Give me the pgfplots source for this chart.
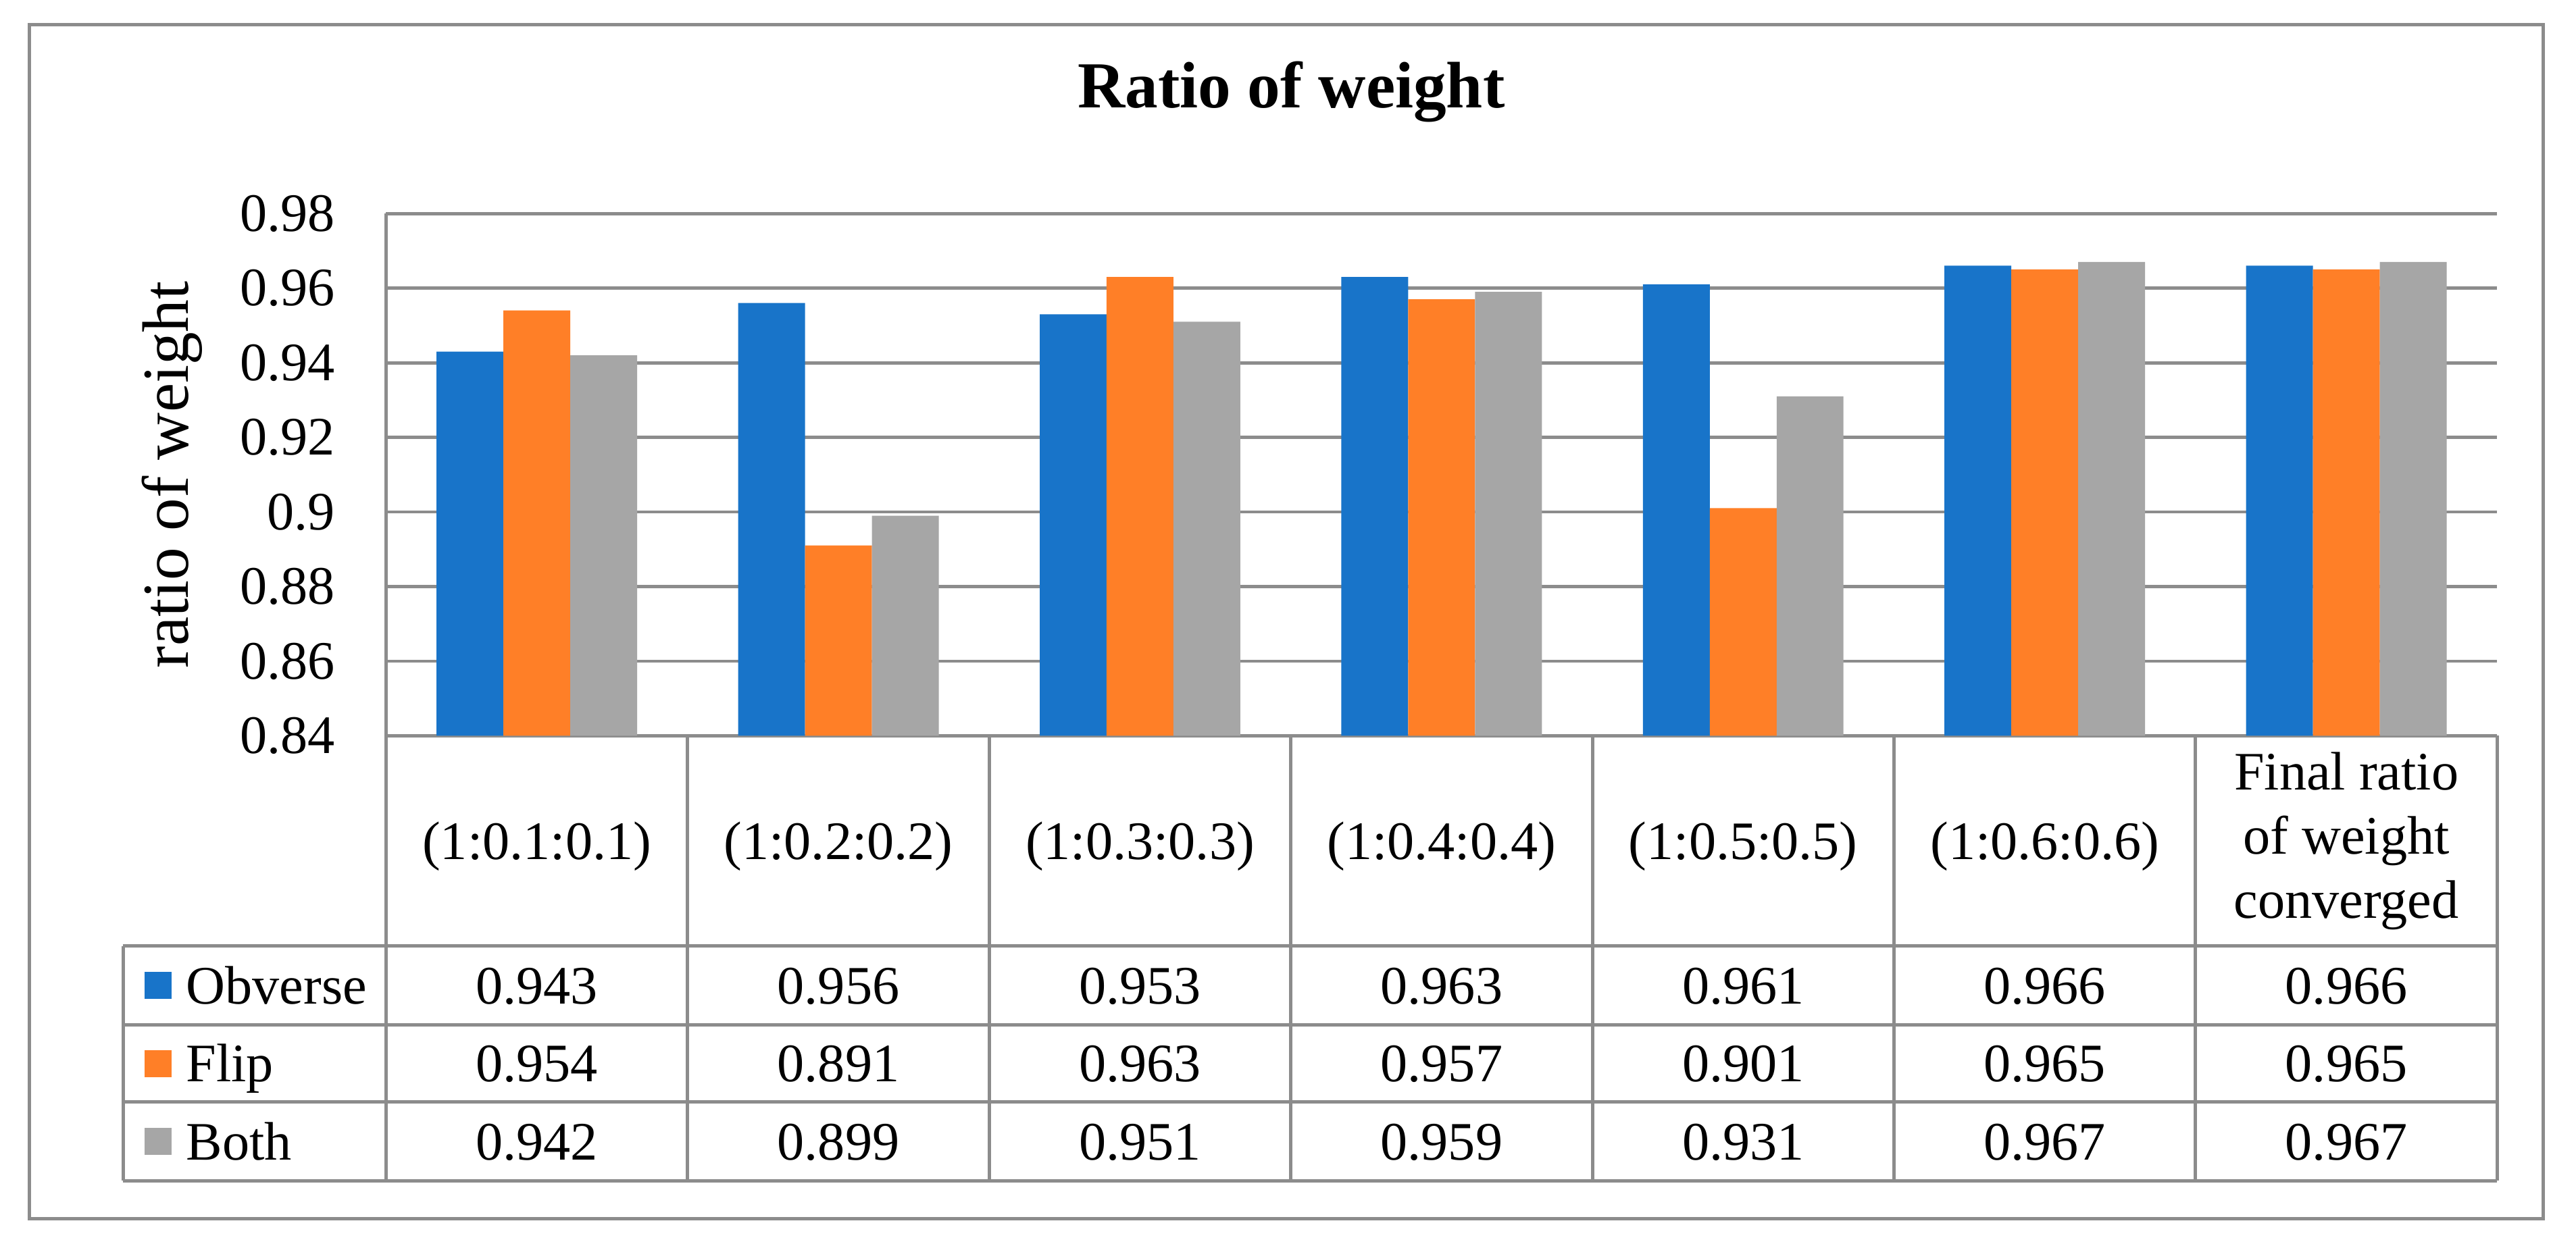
\documentclass[border=0pt]{standalone}
\usepackage{pgfplots}
\pgfplotsset{compat=1.18}
\usepackage{pgfplotstable}
\usepackage{fontspec}
\setmainfont{Liberation Serif}

\definecolor{obv}{HTML}{1874C9}
\definecolor{flp}{HTML}{FF7F27}
\definecolor{bth}{HTML}{A6A6A6}
\definecolor{lin}{HTML}{8C8C8C}

% ratio of weight per setting
\pgfplotstableread{
x obverse flip both
0 0.943 0.954 0.942
1 0.956 0.891 0.899
2 0.953 0.963 0.951
3 0.963 0.957 0.959
4 0.961 0.901 0.931
5 0.966 0.965 0.967
6 0.966 0.965 0.967
}\ratios

\begin{document}
\begin{tikzpicture}[font=\fontsize{16.5}{19.5}\selectfont,
  cell/.style={text height=11.1pt, text depth=0pt, inner sep=0pt}]
\begin{axis}[
  width=642.5pt, height=159pt, scale only axis,
  xmin=-0.5, xmax=6.5, ymin=0.84, ymax=0.98,
  ybar=0pt, bar width=0.2217,
  ytick={0.84,0.86,0.88,0.9,0.92,0.94,0.96,0.98},
  xtick=\empty,
  ymajorgrids, grid style={lin, line width=1pt},
  axis x line*=bottom, axis y line*=left,
  axis line style={lin, line width=1pt, -},
  major tick length=0pt,
  /pgf/number format/assume math mode=true,
  yticklabel style={xshift=-12pt, /pgf/number format/fixed, /pgf/number format/precision=2},
  ylabel={ratio of weight},
  ylabel style={at={(axis description cs:-0.1012,0.5)}, anchor=center, font=\fontsize{20}{24}\selectfont},
  title={Ratio of weight},
  title style={at={(axis description cs:0.4288,1.195)}, anchor=center, font=\fontsize{20}{24}\selectfont\bfseries},
]
\addplot[fill=obv, draw=none] table[x=x, y=obverse] {\ratios};
\addplot[fill=flp, draw=none] table[x=x, y=flip] {\ratios};
\addplot[fill=bth, draw=none] table[x=x, y=both] {\ratios};
\end{axis}

% data table under the plot
\begin{scope}[lin, line width=1pt]
  \foreach \y in {-64, -88, -111.5, -135.5}
    \draw (-80pt, \y pt) -- (642.5pt, \y pt);
  \draw (-80pt,-64pt) -- (-80pt,-135.5pt);
  \foreach \k in {0,...,7}
    \draw ({\k*91.7857pt},0pt) -- ({\k*91.7857pt},-135.5pt);
\end{scope}

\foreach \k/\t in {0/{(1:0.1:0.1)}, 1/{(1:0.2:0.2)}, 2/{(1:0.3:0.3)},
                  3/{(1:0.4:0.4)}, 4/{(1:0.5:0.5)}, 5/{(1:0.6:0.6)}}
  \node[cell] at ({(\k+0.5)*91.7857pt},-32pt) {\t};
\node[align=center, inner sep=0pt] at ({6.5*91.7857pt},-32pt) {Final ratio\\of weight\\converged};

\foreach \k in {0,...,6} {
  \pgfplotstablegetelem{\k}{obverse}\of\ratios
  \node[cell] at ({(\k+0.5)*91.7857pt},-76pt) {\pgfplotsretval};
  \pgfplotstablegetelem{\k}{flip}\of\ratios
  \node[cell] at ({(\k+0.5)*91.7857pt},-99.75pt) {\pgfplotsretval};
  \pgfplotstablegetelem{\k}{both}\of\ratios
  \node[cell] at ({(\k+0.5)*91.7857pt},-123.5pt) {\pgfplotsretval};
}

\foreach \y/\c/\t in {-76/obv/Obverse, -99.75/flp/Flip, -123.5/bth/Both} {
  \fill[\c] (-73.5pt,{\y*1pt-4.1pt}) rectangle (-65.3pt,{\y*1pt+4.1pt});
  \node[cell, anchor=west] at (-61pt,\y pt) {\t};
}

% outer frame
\draw[lin, line width=1.1pt] (-108.5pt,-147pt) rectangle (656.5pt,216.5pt);

\pgfresetboundingbox
\path (-117.5pt,-154pt) rectangle (666.5pt,224pt);
\end{tikzpicture}
\end{document}
